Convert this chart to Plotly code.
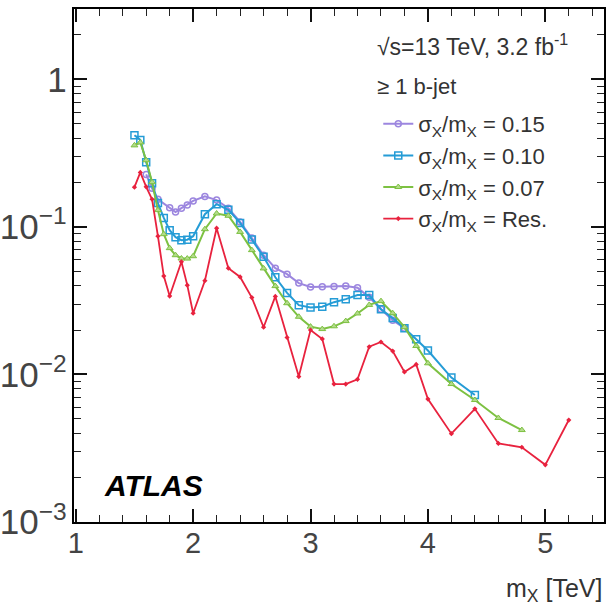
import plotly.graph_objects as go

# ---- data ----
x_015 = [1.6, 1.65, 1.7, 1.8, 1.85, 1.9, 1.95, 2.0, 2.1, 2.2, 2.3, 2.4, 2.5, 2.6, 2.7,
         2.8, 2.9, 3.0, 3.1, 3.2, 3.3, 3.4, 3.5, 3.6, 3.7, 3.8]
y_015 = [0.227, 0.183, 0.154, 0.135, 0.126, 0.134, 0.141, 0.150, 0.161, 0.152, 0.134,
         0.108, 0.084, 0.0643, 0.0525, 0.0478, 0.0416, 0.0392, 0.0393, 0.0395, 0.0397,
         0.0387, 0.0334, 0.0277, 0.0233, 0.0206]

x_010 = [1.5, 1.55, 1.6, 1.65, 1.7, 1.75, 1.8, 1.85, 1.9, 1.95, 2.0, 2.1, 2.2, 2.3, 2.4,
         2.5, 2.6, 2.7, 2.8, 2.9, 3.0, 3.1, 3.2, 3.3, 3.4, 3.5, 3.6, 3.7, 3.8, 3.9, 4.0,
         4.2, 4.4]
y_010 = [0.418, 0.389, 0.274, 0.198, 0.145, 0.115, 0.095, 0.0852, 0.0813, 0.0819,
         0.0865, 0.122, 0.1425, 0.1306, 0.1064, 0.0822, 0.0627, 0.0456, 0.0357, 0.0295,
         0.0284, 0.0288, 0.0309, 0.0324, 0.0345, 0.0345, 0.0277, 0.0241, 0.0206, 0.0173,
         0.01453, 0.00953, 0.00726]

x_007 = [1.5, 1.55, 1.6, 1.65, 1.7, 1.75, 1.8, 1.85, 1.9, 1.95, 2.0, 2.1, 2.2, 2.3, 2.4,
         2.5, 2.6, 2.7, 2.8, 2.9, 3.0, 3.1, 3.2, 3.3, 3.4, 3.5, 3.6, 3.7, 3.8, 3.9, 4.0,
         4.2, 4.4, 4.6, 4.8]
y_007 = [0.357, 0.374, 0.283, 0.201, 0.130, 0.0893, 0.0718, 0.0643, 0.0611, 0.0610,
         0.0633, 0.0965, 0.1233, 0.119, 0.0925, 0.0696, 0.0523, 0.0397, 0.0304, 0.0246,
         0.0211, 0.0203, 0.0212, 0.0230, 0.0259, 0.0296, 0.0314, 0.0260, 0.0209, 0.0156,
         0.0119, 0.00861, 0.00671, 0.00507, 0.00420]

x_res = [1.5, 1.55, 1.6, 1.65, 1.7, 1.75, 1.8, 1.9, 1.95, 2.0, 2.1, 2.2, 2.3, 2.4, 2.5,
         2.6, 2.7, 2.8, 2.9, 3.0, 3.1, 3.2, 3.3, 3.4, 3.5, 3.6, 3.7, 3.8, 3.9, 4.0, 4.2,
         4.4, 4.6, 4.8, 5.0, 5.2]
y_res = [0.186, 0.234, 0.187, 0.154, 0.0865, 0.0464, 0.034, 0.058, 0.0403, 0.026,
         0.0432, 0.098, 0.0525, 0.0458, 0.0332, 0.0209, 0.0338, 0.0178, 0.00968, 0.0200,
         0.0174, 0.00861, 0.00861, 0.00927, 0.0154, 0.0166, 0.0144, 0.0104, 0.0117,
         0.00681, 0.00397, 0.00585, 0.00341, 0.00321, 0.00244, 0.00491]

names = ["σ<sub>X</sub>/m<sub>X</sub> = 0.15", "σ<sub>X</sub>/m<sub>X</sub> = 0.10",
         "σ<sub>X</sub>/m<sub>X</sub> = 0.07", "σ<sub>X</sub>/m<sub>X</sub> = Res."]

XRANGE = [0.985, 5.5]
YRANGE = [-3, 0.477]

FONT = "Liberation Sans"
L, R, T, B = 73, 606, 9, 522   # plot area pixel box
PW, PH = R - L, B - T

fig = go.Figure()
fig.add_trace(go.Scatter(x=x_015, y=y_015, name=names[0], mode="lines+markers", legendgroup="a",
                         line=dict(color="#9C86DF", width=2),
                         marker=dict(symbol="circle-open", size=6, color="#9C86DF", line=dict(width=1.5))))
fig.add_trace(go.Scatter(x=x_010, y=y_010, name=names[1], mode="lines+markers", legendgroup="b",
                         line=dict(color="#259CD6", width=2),
                         marker=dict(symbol="square-open", size=7, color="#259CD6", line=dict(width=1.5))))
fig.add_trace(go.Scatter(x=x_007, y=y_007, name=names[2], mode="lines+markers", legendgroup="c",
                         line=dict(color="#7DC142", width=2),
                         marker=dict(symbol="triangle-up", size=6, color="#B3DB8A",
                                     line=dict(color="#7DC142", width=1))))
fig.add_trace(go.Scatter(x=x_res, y=y_res, name=names[3], mode="lines+markers", legendgroup="d",
                         line=dict(color="#E8223E", width=1.8),
                         marker=dict(symbol="diamond", size=4, color="#E8223E")))

xaxis = dict(range=XRANGE, showline=True, linecolor="black", linewidth=1.5,
             mirror="ticks", ticks="inside", ticklen=13, tickwidth=1.5, tickcolor="#111",
             dtick=1, tick0=0, showgrid=False, zeroline=False,
             tickfont=dict(family=FONT, size=29, color="#444"),
             minor=dict(ticks="inside", ticklen=7, dtick=0.2, tickcolor="#222", tickwidth=1.2,
                        showgrid=False))
yaxis = dict(type="log", range=YRANGE, showline=True, linecolor="black", linewidth=1.5,
             mirror="ticks", ticks="inside", ticklen=13, tickwidth=1.5, tickcolor="#111",
             dtick=1, exponentformat="power", showgrid=False, zeroline=False,
             tickfont=dict(family=FONT, size=28, color="#444"),
             minor=dict(ticks="inside", ticklen=7, tickcolor="#222", tickwidth=1.2, showgrid=False))
fig.update_layout(xaxis=xaxis, yaxis=yaxis)
try:
    fig.update_xaxes(ticklabelstandoff=-6)
except ValueError:
    pass

fig.add_annotation(text="<b><i>ATLAS</i></b>", xref="paper", yref="paper", x=(101 - L) / PW,
                   y=(B - 485) / PH, xanchor="left", yanchor="middle", showarrow=False,
                   font=dict(family=FONT, size=30, color="black"))
fig.add_annotation(text="m<sub>X</sub> [TeV]", xref="paper", yref="paper", x=1.0,
                   y=(B - 590) / PH, xanchor="right", yanchor="middle", showarrow=False,
                   font=dict(family=FONT, size=25, color="#333"))
fig.add_annotation(text="√s=13 TeV, 3.2 fb<sup>-1</sup>", xref="paper", yref="paper",
                   x=(376 - L) / PW, y=(B - 45) / PH, xanchor="left", yanchor="middle",
                   showarrow=False, font=dict(family=FONT, size=23, color="#333"))
fig.add_annotation(text="≥ 1 b-jet", xref="paper", yref="paper",
                   x=(376 - L) / PW, y=(B - 86) / PH, xanchor="left", yanchor="middle",
                   showarrow=False, font=dict(family=FONT, size=22, color="#333"))

fig.update_layout(
    width=606, height=611, margin=dict(l=L, r=606 - R, t=T, b=611 - B),
    plot_bgcolor="white", paper_bgcolor="white",
    legend=dict(xref="paper", yref="paper", x=(379 - L) / PW, y=(B - 103) / PH,
                xanchor="left", yanchor="top", bgcolor="rgba(0,0,0,0)",
                font=dict(family=FONT, size=22, color="#333"),
                traceorder="grouped", tracegroupgap=0),
    showlegend=True,
)

fig.write_html("out.html")
